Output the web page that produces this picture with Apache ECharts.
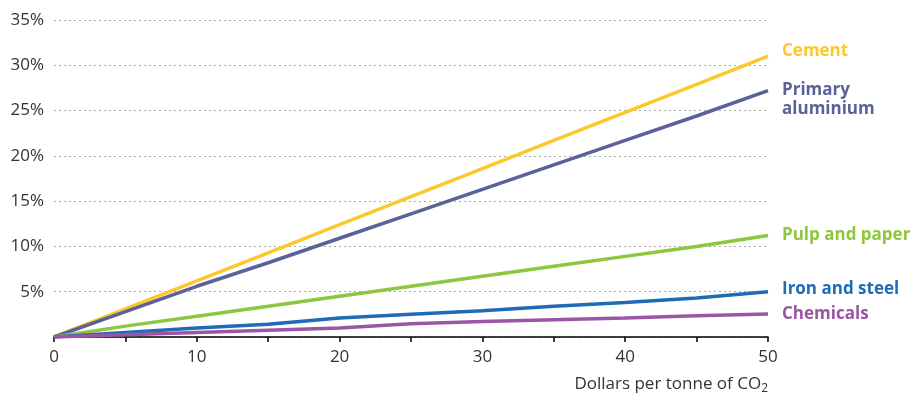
<!DOCTYPE html>
<html><head><meta charset="utf-8">
<script src="https://cdn.jsdelivr.net/npm/echarts@6/dist/echarts.min.js"></script>
<style>html,body{margin:0;padding:0;background:#fff}#c{width:918px;height:395px}</style>
</head><body><div id="c"></div>
<script>
const prices = [0, 5, 10, 15, 20, 25, 30, 35, 40, 45, 50];
const cement = [0, 3.1, 6.2, 9.3, 12.4, 15.5, 18.6, 21.7, 24.8, 27.9, 31.0];
const aluminium = [0, 2.8, 5.6, 8.2, 10.9, 13.6, 16.3, 19.0, 21.7, 24.4, 27.2];
const pulp = [0, 1.2, 2.3, 3.4, 4.5, 5.6, 6.7, 7.8, 8.9, 10.0, 11.2];
const iron = [0, 0.5, 1.0, 1.4, 2.1, 2.5, 2.9, 3.4, 3.8, 4.3, 5.0];
const chemicals = [0, 0.25, 0.5, 0.75, 1.0, 1.45, 1.7, 1.9, 2.1, 2.35, 2.55];
const yTicks = [0, 5, 10, 15, 20, 25, 30, 35];

const FONT = 'Open Sans';
function mk(name, label, vals, color, offY) {
  return {
    name: name, type: 'line', showSymbol: false, symbol: 'none',
    data: prices.map((p, i) => [p, vals[i]]),
    lineStyle: { color: color, width: 3.5 },
    itemStyle: { color: color },
    endLabel: { show: true, formatter: label, color: color, fontFamily: FONT,
      fontWeight: 'bold', fontSize: 17, lineHeight: 19, distance: 14, offset: [0, offY], align: 'left' },
    emphasis: { disabled: true }, animation: false
  };
}
const chart = echarts.init(document.getElementById('c'));
chart.setOption({
  animation: false,
  grid: { left: 54, right: 150, top: 20, bottom: 56 },
  xAxis: {
    type: 'value', min: 0, max: 50, interval: 5,
    axisLine: { lineStyle: { color: '#000', width: 1.5 } },
    axisTick: { show: true, length: 5, lineStyle: { color: '#000', width: 1.5 } },
    splitLine: { show: false },
    axisLabel: { formatter: v => (v % 10 === 0 ? String(v) : ''), color: '#333', fontFamily: FONT, fontSize: 17, margin: 12 },
    name: 'Dollars per tonne of CO{s|2}', nameLocation: 'end', nameGap: 0,
    nameTextStyle: { align: 'right', verticalAlign: 'top', padding: [37, 0, 0, 0], color: '#333', fontFamily: FONT, fontSize: 17,
      rich: { s: { fontSize: 12, verticalAlign: 'bottom', padding: [9, 0, 0, 0], color: '#333', fontFamily: FONT } } }
  },
  yAxis: {
    type: 'value', min: yTicks[0], max: yTicks[yTicks.length - 1], interval: 5,
    axisLine: { show: false }, axisTick: { show: false },
    splitLine: { show: true, lineStyle: { color: '#aaa', type: [2, 3], width: 1.2 } },
    axisLabel: { formatter: v => (v === 0 ? '' : v + '%'), color: '#333', fontFamily: FONT, fontSize: 17, margin: 10 }
  },
  series: [
    mk('Cement', 'Cement', cement, '#FDC82F', -5),
    mk('Primary aluminium', 'Primary\naluminium', aluminium, '#5B6199', 9),
    mk('Pulp and paper', 'Pulp and paper', pulp, '#8DC63F', 0),
    mk('Iron and steel', 'Iron and steel', iron, '#1F6BB5', -3),
    mk('Chemicals', 'Chemicals', chemicals, '#9B55A5', 0)
  ]
});
</script></body></html>
